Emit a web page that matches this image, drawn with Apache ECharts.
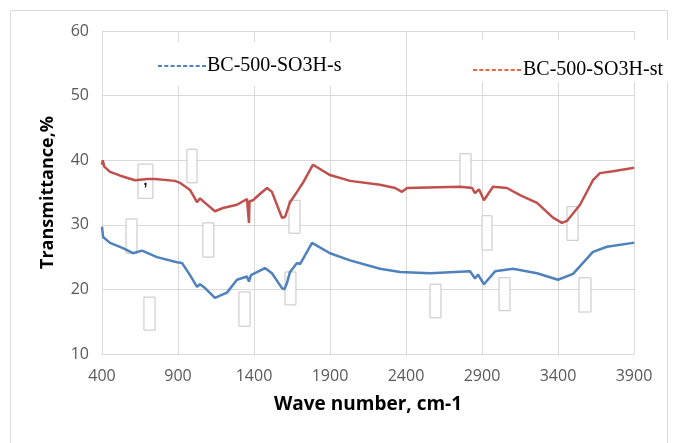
<!DOCTYPE html>
<html>
<head>
<meta charset="utf-8">
<script src="https://cdn.jsdelivr.net/npm/echarts@6/dist/echarts.min.js"></script>
<style>
  html, body { margin: 0; padding: 0; background: #fff; }
  #chart { width: 674px; height: 443px; }
</style>
</head>
<body>
<div id="chart"></div>
<script>
// FTIR spectra
var waveS = [400, 407, 453, 538, 604, 663, 762, 893, 926, 979, 1025, 1045, 1078, 1143, 1222, 1288, 1354, 1367, 1380, 1393, 1472, 1518, 1584, 1600, 1617, 1637, 1683, 1703, 1782, 1900, 2032, 2229, 2361, 2558, 2821, 2854, 2874, 2913, 2986, 3104, 3262, 3400, 3499, 3630, 3722, 3893, 3900];
var transS = [29.7, 28.1, 27.2, 26.4, 25.6, 26.0, 25.0, 24.2, 24.1, 22.2, 20.4, 20.8, 20.2, 18.7, 19.5, 21.5, 22.0, 21.2, 22.2, 22.4, 23.3, 22.5, 20.2, 20.0, 21.0, 22.7, 24.1, 23.9, 27.2, 25.6, 24.5, 23.2, 22.7, 22.5, 22.8, 21.7, 22.3, 20.8, 22.8, 23.2, 22.5, 21.5, 22.4, 25.8, 26.6, 27.2, 27.3];
var waveSt = [400, 405, 415, 453, 520, 617, 700, 749, 880, 913, 979, 1025, 1045, 1078, 1143, 1196, 1288, 1354, 1365, 1367, 1370, 1393, 1450, 1486, 1518, 1584, 1604, 1637, 1683, 1722, 1788, 1900, 2032, 2229, 2328, 2374, 2407, 2755, 2834, 2854, 2880, 2913, 2972, 3064, 3150, 3262, 3367, 3426, 3459, 3545, 3630, 3676, 3762, 3893, 3900];
var transSt = [39.3, 40.0, 39.0, 38.2, 37.6, 36.9, 37.1, 37.1, 36.8, 36.5, 35.4, 33.5, 34.1, 33.4, 32.1, 32.6, 33.1, 34.0, 34.0, 30.3, 33.6, 33.8, 35.0, 35.7, 35.1, 31.1, 31.2, 33.5, 35.1, 36.5, 39.3, 37.7, 36.8, 36.2, 35.7, 35.1, 35.7, 35.9, 35.7, 34.9, 35.5, 33.8, 35.9, 35.7, 34.6, 33.4, 31.1, 30.3, 30.6, 33.1, 36.9, 38.0, 38.3, 38.8, 38.9];

// empty label boxes on the plot (data coordinates)
var boxX1 = [637, 959, 558, 1064, 1630, 1604, 1301, 676, 2755, 2900, 3459, 2558, 3012, 3538];
var boxX2 = [735, 1025, 630, 1136, 1703, 1676, 1374, 749, 2828, 2966, 3532, 2630, 3084, 3617];
var boxTop = [39.4, 41.7, 30.9, 30.3, 33.8, 22.7, 19.6, 18.8, 41.0, 31.4, 32.8, 20.8, 21.8, 21.8];
var boxBottom = [34.1, 36.5, 25.6, 25.0, 28.7, 17.6, 14.3, 13.7, 35.9, 26.1, 27.6, 15.6, 16.7, 16.5];
var boxText = [',', '', '', '', '', '', '', '', '', '', '', '', '', ''];

var xStart = 400; // axis counted from 0 so ticks fall on 400, 900, ...

function pairs(xs, ys) {
    return xs.map(function (x, i) { return [x - xStart, ys[i]]; });
}

var boxes = boxX1.map(function (x1, i) {
    return [{
        coord: [x1 - xStart, boxTop[i]],
        label: { show: boxText[i] !== '', formatter: boxText[i], position: 'inside', color: '#000', fontSize: 14, fontWeight: 'bold' }
    }, {
        coord: [boxX2[i] - xStart, boxBottom[i]]
    }];
});

var dashIcon = 'path://M0,0h4v2h-4z M6.3,0h4v2h-4z M12.6,0h4v2h-4z M18.9,0h4v2h-4z M25.2,0h4v2h-4z M31.5,0h4v2h-4z M37.8,0h4v2h-4z M44.1,0h4v2h-4z';
var serif = "'Liberation Serif', 'Times New Roman', serif";

var myChart = echarts.init(document.getElementById('chart'));
var option = {
    backgroundColor: '#fff',
    animation: false,
    graphic: [{
        type: 'rect',
        shape: { x: 10.5, y: 10.5, width: 657, height: 450 },
        style: { fill: 'none', stroke: '#d9d9d9', lineWidth: 1 },
        z: -1
    }],
    grid: { left: 102, right: 40, top: 31, bottom: 89, containLabel: false },
    legend: [{
        data: [{ name: 'BC-500-SO3H-s', itemStyle: { color: '#4f81bd' } }],
        left: 120, top: 42,
        padding: [14, 40, 10, 38],
        backgroundColor: '#fff',
        icon: dashIcon,
        itemWidth: 48, itemHeight: 2, itemGap: 0,
        textStyle: { fontFamily: serif, fontSize: 20, color: '#000', padding: [0, 0, 0, -4] }
    }, {
        data: [{ name: 'BC-500-SO3H-st', itemStyle: { color: '#e8663d' } }],
        left: 458, top: 40,
        padding: [20, 60, 2, 15],
        backgroundColor: '#fff',
        icon: dashIcon,
        itemWidth: 48, itemHeight: 2, itemGap: 0,
        textStyle: { fontFamily: serif, fontSize: 20, color: '#000', padding: [0, 0, 0, -3] }
    }],
    xAxis: {
        type: 'value',
        min: 0, max: 3500, interval: 500,
        name: 'Wave number, cm-1',
        nameLocation: 'middle',
        nameGap: 41,
        nameTextStyle: { fontFamily: 'Open Sans', fontWeight: 'bold', fontSize: 19, color: '#000' },
        axisLine: { show: false },
        axisTick: { show: false },
        axisLabel: {
            margin: 14, color: '#595959', fontFamily: 'Open Sans', fontSize: 16,
            formatter: function (v) { return v + xStart; }
        },
        splitLine: { show: true, lineStyle: { color: '#d9d9d9', width: 1 } }
    },
    yAxis: {
        type: 'value',
        min: 10, max: 60, interval: 10,
        name: 'Transmittance,%',
        nameLocation: 'middle',
        nameGap: 45,
        nameTextStyle: { fontFamily: 'Open Sans', fontWeight: 'bold', fontSize: 18, color: '#000' },
        axisLine: { show: false },
        axisTick: { show: false },
        axisLabel: { margin: 13, color: '#595959', fontFamily: 'Open Sans', fontSize: 16 },
        splitLine: { show: true, lineStyle: { color: '#d9d9d9', width: 1 } }
    },
    series: [{
        name: 'BC-500-SO3H-s',
        type: 'line',
        showSymbol: false,
        data: pairs(waveS, transS),
        lineStyle: { color: '#4f81bd', width: 2.5 },
        itemStyle: { color: '#4f81bd' },
        z: 2
    }, {
        name: 'BC-500-SO3H-st',
        type: 'line',
        showSymbol: false,
        data: pairs(waveSt, transSt),
        lineStyle: { color: '#c0504d', width: 2.5 },
        itemStyle: { color: '#c0504d' },
        z: 2
    }, {
        name: 'boxes',
        type: 'line',
        data: [],
        z: 5,
        markArea: {
            silent: true,
            itemStyle: { color: '#fff', borderColor: '#c4c4c4', borderWidth: 1 },
            data: boxes
        }
    }]
};
myChart.setOption(option);
window.addEventListener('resize', function () {
    myChart.resize();
});
</script>
</body>
</html>
